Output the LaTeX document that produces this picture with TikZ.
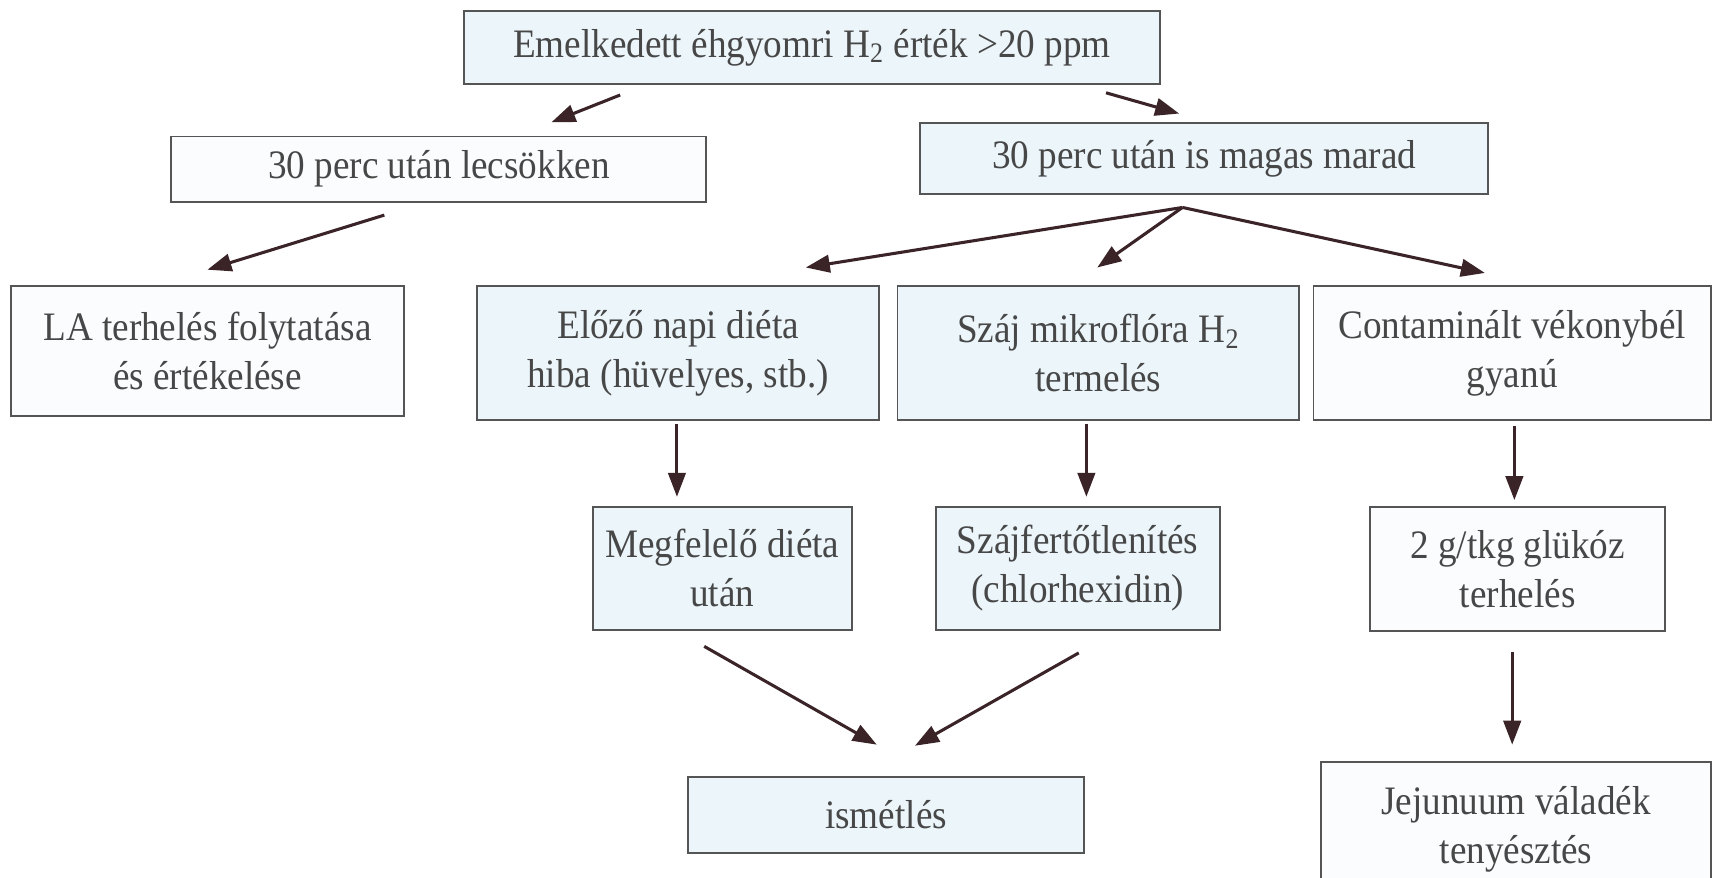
\documentclass[tikz,border=0pt]{standalone}
\usepackage{fontspec}
\setmainfont[FakeStretch=0.92]{Liberation Serif}
\usetikzlibrary{arrows.meta}
\definecolor{txt}{HTML}{474747}
\definecolor{brd}{HTML}{555555}
\definecolor{lb}{HTML}{EBF5FA}
\definecolor{wb}{HTML}{FAFCFD}
\definecolor{arc}{HTML}{3B2428}
\begin{document}
\begin{tikzpicture}[x=0.5pt,y=-0.5pt,
  box/.style={draw=brd, line width=0.9pt, text=txt, align=center, inner sep=0pt,
    font=\fontsize{18.5}{22.5}\selectfont},
  arr/.style={draw=arc, line width=1.4pt, -{Triangle[length=11pt,width=8pt]}}]
\useasboundingbox (0,0) rectangle (1568,804);
\fill[white] (0,0) rectangle (1568,804);
% boxes
\node[box, fill=lb, minimum width=318.5pt, minimum height=33.5pt] (top) at (743.5,43.5) {Emelkedett éhgyomri H\textsubscript{2} érték >20 ppm};
\node[box, fill=wb, minimum width=245pt, minimum height=30pt] (lec) at (402,155) {30 perc után lecsökken};
\node[box, fill=lb, minimum width=260pt, minimum height=32.5pt] (mag) at (1103,145.5) {30 perc után is magas marad};
\node[box, fill=wb, minimum width=180pt, minimum height=59.5pt] (la) at (190,321.5) {LA terhelés folytatása\\és értékelése};
\node[box, fill=lb, minimum width=184pt, minimum height=61.5pt] (elo) at (621,323.5) {Előző napi diéta\\hiba (hüvelyes, stb.)};
\node[box, fill=lb, minimum width=184pt, minimum height=61.5pt] (szaj) at (1006,323.5) {Száj mikroflóra H\textsubscript{2}\\termelés};
\node[box, fill=wb, minimum width=182pt, minimum height=61.5pt] (cont) at (1385,323.5) {Contaminált vékonybél\\gyanú};
\node[box, fill=lb, minimum width=118.5pt, minimum height=56.5pt] (meg) at (661.5,520.5) {Megfelelő diéta\\után};
\node[box, fill=lb, minimum width=130pt, minimum height=56.5pt] (szf) at (987,520.5) {Szájfertőtlenítés\\(chlorhexidin)};
\node[box, fill=wb, minimum width=135pt, minimum height=57pt] (glu) at (1390,521) {2 g/tkg glükóz\\terhelés};
\node[box, fill=lb, minimum width=181.5pt, minimum height=34.5pt] (ism) at (811.5,746.5) {ismétlés};
\node[box, fill=wb, minimum width=178.5pt, minimum height=61.5pt, anchor=north] (jej) at (1388.5,697) {Jejunuum váladék\\tenyésztés};
% arrow end points
\coordinate (a1s) at (568,87);   \coordinate (a1e) at (505,112);
\coordinate (a2s) at (1013,85);  \coordinate (a2e) at (1080,104);
\coordinate (a3s) at (352,197);  \coordinate (a3e) at (190,247);
\coordinate (fan) at (1083,190);
\coordinate (a4e) at (738,245);  \coordinate (a5e) at (1005,245); \coordinate (a6e) at (1360,250);
\coordinate (a7s) at (620,388);  \coordinate (a7e) at (620,455);
\coordinate (a8s) at (995,388);  \coordinate (a8e) at (995,455);
\coordinate (a9s) at (1387,390); \coordinate (a9e) at (1387,458);
\coordinate (b1s) at (645,592);  \coordinate (b1e) at (803,682);
\coordinate (b2s) at (988,598);  \coordinate (b2e) at (838,683);
\coordinate (b3s) at (1385,597); \coordinate (b3e) at (1385,682);
% arrows
\draw[arr] (a1s) -- (a1e);
\draw[arr] (a2s) -- (a2e);
\draw[arr] (a3s) -- (a3e);
\draw[arr] (fan) -- (a4e);
\draw[arr] (fan) -- (a5e);
\draw[arr] (fan) -- (a6e);
\draw[arr] (a7s) -- (a7e);
\draw[arr] (a8s) -- (a8e);
\draw[arr] (a9s) -- (a9e);
\draw[arr] (b1s) -- (b1e);
\draw[arr] (b2s) -- (b2e);
\draw[arr] (b3s) -- (b3e);
\end{tikzpicture}
\end{document}
